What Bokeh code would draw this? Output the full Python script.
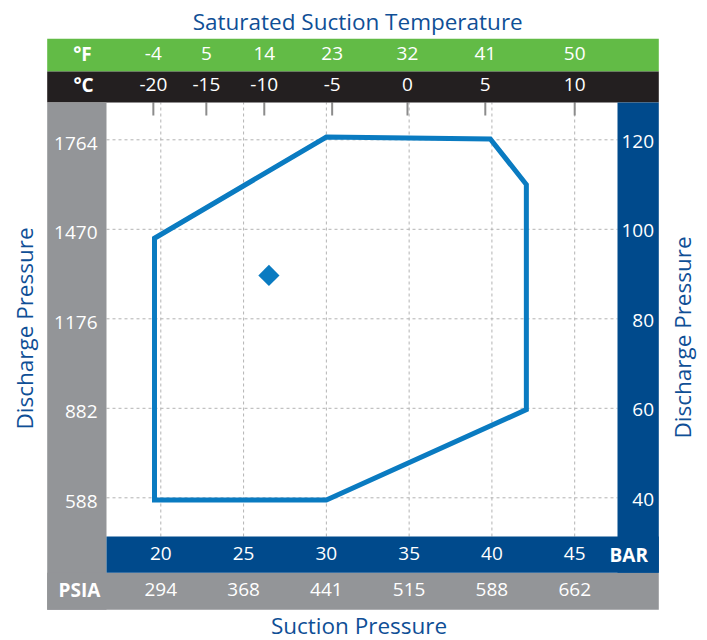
import math
from bokeh.plotting import figure
from bokeh.models import Range1d, ColumnDataSource
from bokeh.core.properties import value
from bokeh.embed import file_html
from bokeh.resources import INLINE

# ---------------- data (pressures in bar abs) ----------------
suction_bar_ticks = [20, 25, 30, 35, 40, 45]
suction_bar_labels = ["20", "25", "30", "35", "40", "45"]
suction_psia_labels = ["294", "368", "441", "515", "588", "662"]
discharge_bar_ticks = [40, 60, 80, 100, 120]
discharge_bar_labels = ["40", "60", "80", "100", "120"]
discharge_psia_labels = ["588", "882", "1176", "1470", "1764"]
sst_sat_pressure_bar = [19.55, 22.75, 26.25, 30.35, 34.9, 39.6, 45.0]
sst_c_labels = ["-20", "-15", "-10", "-5", "0", "5", "10"]
sst_f_labels = ["-4", "5", "14", "23", "32", "41", "50"]
envelope_suction_bar = [19.62, 30.0, 39.9, 42.08, 42.08, 30.0, 19.62]
envelope_discharge_bar = [98.0, 120.6, 120.2, 110.0, 59.7, 39.5, 39.5]
rating_suction_bar = [26.53]
rating_discharge_bar = [89.7]

# ---------------- layout (page pixels -> data) ----------------
W, H = 707, 640
PAGE_X20, KX = 160.3, 16.556   # page x of 20 bar, px per bar
PAGE_Y120, KY = 139.3, 4.475   # page y of 120 bar, px per bar
X0 = 20 - PAGE_X20 / KX
X1 = X0 + W / KX
Y1 = 120 + PAGE_Y120 / KY
Y0 = Y1 - H / KY


def X(px):
    return X0 + px / KX


def Y(py):
    return Y1 - py / KY


GREEN = "#62bb46"
BLACK = "#231f20"
GRAY = "#939598"
BAND_BLUE = "#004a8c"
TITLE_BLUE = "#0f4f96"
LINE_BLUE = "#0a7bc1"
GRID = "#b3b3b3"
FONT = "Open Sans"

p = figure(width=W, height=H, output_backend="svg", toolbar_location=None,
           x_range=Range1d(X0, X1), y_range=Range1d(Y0, Y1),
           x_axis_type=None, y_axis_type=None,
           min_border=0, min_border_left=0, min_border_right=0,
           min_border_top=0, min_border_bottom=0,
           background_fill_color="white", border_fill_color="white",
           outline_line_color=None)

# plot area bounds
PL, PR, PT, PB = X(106), X(617), Y(102), Y(536)

# grid lines (dashed)
p.segment(x0=suction_bar_ticks, x1=suction_bar_ticks,
          y0=[PB] * len(suction_bar_ticks), y1=[PT] * len(suction_bar_ticks),
          line_color=GRID, line_width=1, line_dash="3 3")
p.segment(x0=[PL] * len(discharge_bar_ticks), x1=[PR] * len(discharge_bar_ticks),
          y0=discharge_bar_ticks, y1=discharge_bar_ticks,
          line_color=GRID, line_width=1, line_dash="3 3")

# temperature tick marks at the top of the plot area
p.segment(x0=sst_sat_pressure_bar, x1=sst_sat_pressure_bar,
          y0=[PT] * len(sst_sat_pressure_bar), y1=[Y(115)] * len(sst_sat_pressure_bar),
          line_color="#8c8c8c", line_width=2)


# bands
def band(l, r, t, b, color):
    p.quad(left=X(l), right=X(r), top=Y(t), bottom=Y(b), fill_color=color, line_color=None)


band(46.7, 658.3, 38.3, 71, GREEN)
band(46.7, 658.3, 71, 102, BLACK)
band(46.7, 106, 102, 609.3, GRAY)
band(46.7, 658.3, 572.3, 609.3, GRAY)
band(106, 658.3, 536, 572.3, BAND_BLUE)
band(617, 658.3, 102, 572.3, BAND_BLUE)

# envelope and rating point
p.patch(envelope_suction_bar, envelope_discharge_bar, fill_alpha=0, line_color=LINE_BLUE,
        line_width=5, line_join="miter")
p.scatter(rating_suction_bar, rating_discharge_bar, marker="square", angle=math.pi / 4,
          size=15, fill_color=LINE_BLUE, line_color=None)


def txt(xs, ys, labels, size, color, align="center", bold=False, angle=0.0, y_offset=0):
    src = ColumnDataSource(dict(x=xs, y=ys, t=labels))
    p.text(x="x", y="y", text="t", source=src, text_font=value(FONT),
           text_font_size=value(size), text_color=color, text_align=align,
           text_baseline="alphabetic", text_font_style="bold" if bold else "normal",
           angle=angle, y_offset=y_offset)


n_t = len(sst_sat_pressure_bar)
txt(sst_sat_pressure_bar, [Y(53)] * n_t, sst_f_labels, "19px", "white")
txt(sst_sat_pressure_bar, [Y(84)] * n_t, sst_c_labels, "19px", "white")
txt([X(82)], [Y(53.5)], ["°F"], "19px", "white", bold=True)
txt([X(83)], [Y(84.3)], ["°C"], "19px", "white", bold=True)

n_s = len(suction_bar_ticks)
txt(suction_bar_ticks, [Y(553.3)] * n_s, suction_bar_labels, "19px", "white")
txt(suction_bar_ticks, [Y(589)] * n_s, suction_psia_labels, "19px", "white")
txt([X(628.3)], [Y(554.5)], ["BAR"], "19px", "white", bold=True)
txt([X(79)], [Y(589)], ["PSIA"], "19px", "white", bold=True)

n_d = len(discharge_bar_ticks)
txt([X(97)] * n_d, discharge_bar_ticks, discharge_psia_labels, "19px", "white",
    align="right", y_offset=3.4)
txt([X(653.5)] * n_d, discharge_bar_ticks, discharge_bar_labels, "19px", "white",
    align="right", y_offset=1.5)

# titles
txt([X(357.2)], [Y(20.5)], ["Saturated Suction Temperature"], "22.5px", TITLE_BLUE)
txt([X(358.5)], [Y(624.5)], ["Suction Pressure"], "22.5px", TITLE_BLUE)
txt([X(23.5)], [Y(328)], ["Discharge Pressure"], "22.5px", TITLE_BLUE, angle=math.pi / 2)
txt([X(682)], [Y(337)], ["Discharge Pressure"], "22.5px", TITLE_BLUE, angle=math.pi / 2)

open("out.html", "w").write(file_html(p, INLINE))
